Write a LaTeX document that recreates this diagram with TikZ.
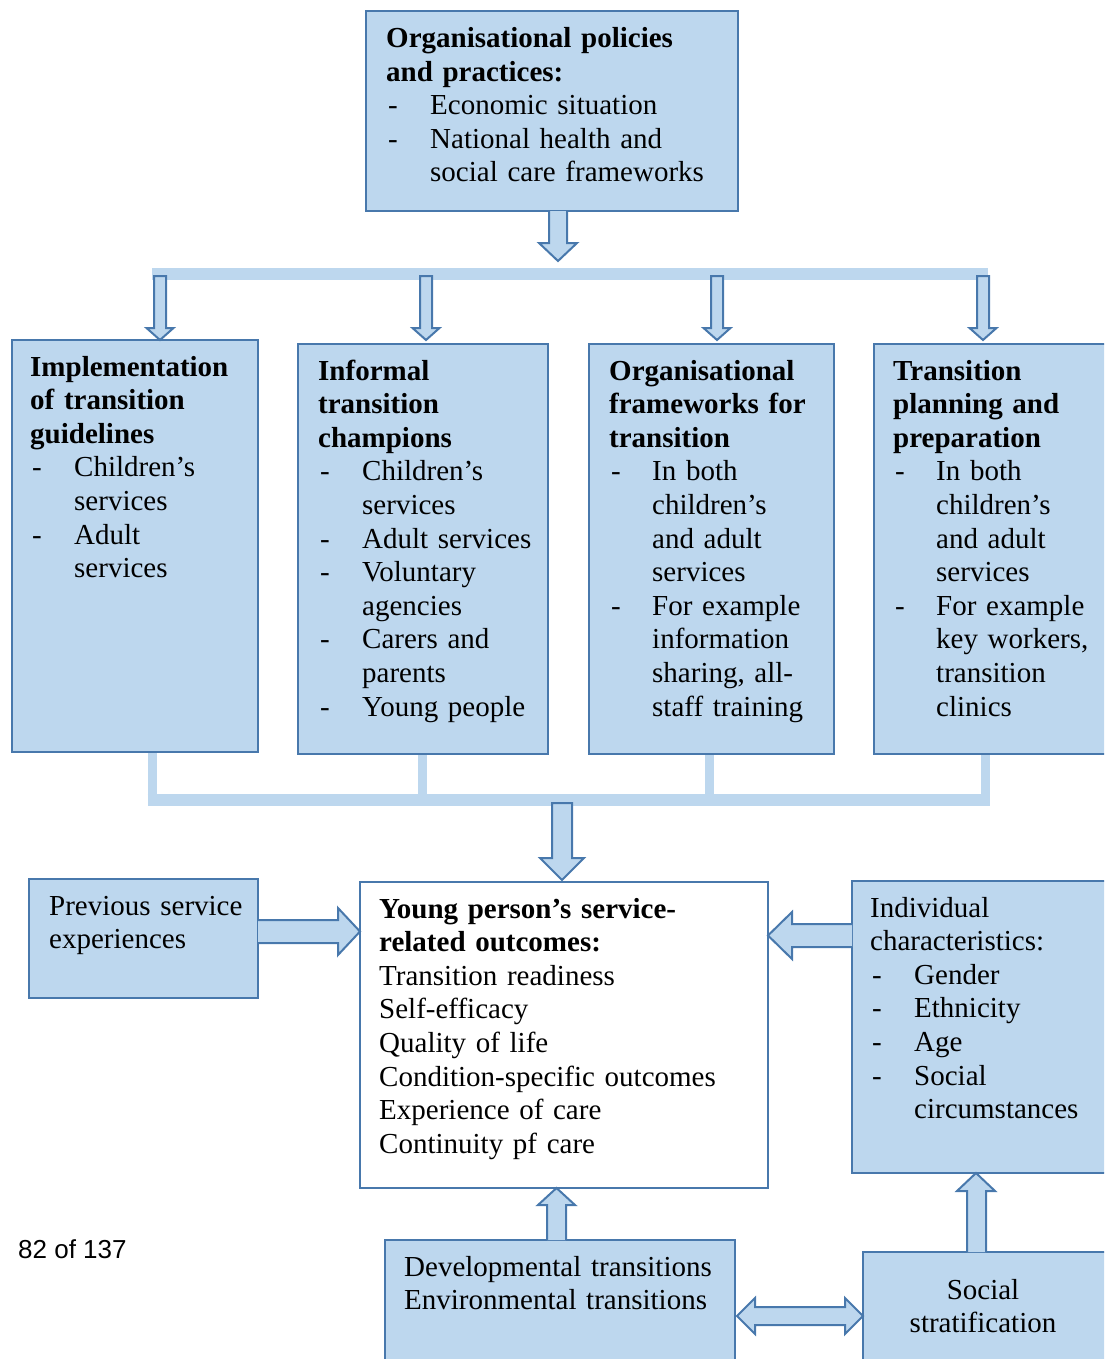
\documentclass[tikz,border=0pt]{standalone}
\usepackage{fontspec}
\setmainfont{Liberation Serif}
\setsansfont{Liberation Sans}
\definecolor{lb}{RGB}{189,215,238}
\definecolor{bdr}{RGB}{72,120,172}
\newlength\indw
\setlength\indw{44pt}
\newcommand\fsz{\fontsize{29}{33.6}\selectfont}
\newcommand\itm[1]{\par\noindent\hangindent=\indw\hangafter=1\makebox[\indw][l]{\hspace{2pt}-}#1\par}
\tikzset{
  box/.style={draw=bdr, fill=lb, line width=2.2pt, anchor=north west, inner sep=0pt, outer sep=0pt},
  wbox/.style={box, fill=white},
  arr/.style={draw=bdr, fill=lb, line width=2pt, line join=miter},
  barv/.style={draw=lb, line width=9pt},
  barh/.style={draw=lb, line width=12pt},
  txt/.style={anchor=base west, inner sep=0pt, align=left, font=\fsz, text width=#1},
  ctxt/.style={anchor=base, inner sep=0pt, align=center, font=\fsz, text width=#1},
}
\begin{document}
\begin{tikzpicture}[x=1pt,y=-1pt]
\useasboundingbox (0,0) rectangle (1104,1359);
\clip (0,0) rectangle (1104,1359);
% connector bars
\draw[barh] (152,274) -- (988,274);
\draw[barv] (152,750) -- (152,800);
\draw[barv] (422,750) -- (422,800);
\draw[barv] (709,750) -- (709,800);
\draw[barv] (985,750) -- (985,800);
\draw[barh] (147.5,800) -- (989.5,800);
% boxes
\node[box, minimum width=372pt, minimum height=200pt] (top) at (366,11) {};
\node[box, minimum width=246pt, minimum height=412pt] (b1) at (12,340) {};
\node[box, minimum width=250pt, minimum height=410pt] (b2) at (298,344) {};
\node[box, minimum width=245pt, minimum height=410pt] (b3) at (589,344) {};
\node[box, minimum width=240pt, minimum height=410pt] (b4) at (874,344) {};
\node[box, minimum width=229pt, minimum height=119pt] (prev) at (29,879) {};
\node[wbox, minimum width=408pt, minimum height=306pt] (out) at (360,882) {};
\node[box, minimum width=260pt, minimum height=292pt] (ind) at (852,881) {};
\node[box, minimum width=350pt, minimum height=130pt] (dev) at (385,1240) {};
\node[box, minimum width=250pt, minimum height=120pt] (soc) at (863,1252) {};
% texts
\node[txt=350pt] (ttop) at (386,47.5) {\textbf{Organisational policies}\\\textbf{and practices:}
\itm{Economic situation}
\itm{National health and\newline social care frameworks}};
\node[txt=230pt] (tb1) at (30,376) {\textbf{Implementation}\\\textbf{of transition}\\\textbf{guidelines}
\itm{Children’s\newline services}
\itm{Adult\newline services}};
\node[txt=230pt] (tb2) at (318,380) {\textbf{Informal}\\\textbf{transition}\\\textbf{champions}
\itm{Children’s\newline services}
\itm{Adult services}
\itm{Voluntary\newline agencies}
\itm{Carers and\newline parents}
\itm{Young people}};
\setlength\indw{43pt}
\node[txt=230pt] (tb3) at (609,380) {\textbf{Organisational}\\\textbf{frameworks for}\\\textbf{transition}
\itm{In both\newline children’s\newline and adult\newline services}
\itm{For example\newline information\newline sharing, all-\newline staff training}};
\node[txt=230pt] (tb4) at (893,380) {\textbf{Transition}\\\textbf{planning and}\\\textbf{preparation}
\itm{In both\newline children’s\newline and adult\newline services}
\itm{For example\newline key workers,\newline transition\newline clinics}};
\setlength\indw{44pt}
\node[txt=220pt] (tprev) at (49,915) {Previous service\\experiences};
\node[txt=390pt] (tout) at (379,918) {\textbf{Young person’s service-}\\\textbf{related outcomes:}\\Transition readiness\\Self-efficacy\\Quality of life\\Condition-specific outcomes\\Experience of care\\Continuity pf care};
\node[txt=240pt] (tind) at (870,917) {Individual\\characteristics:
\itm{Gender}
\itm{Ethnicity}
\itm{Age}
\itm{Social\newline circumstances}};
\node[txt=340pt] (tdev) at (404,1276) {Developmental transitions\\Environmental transitions};
\node[ctxt=240pt] (tsoc) at (983,1299) {Social\\stratification};
\node[anchor=base west, inner sep=0pt, font=\sffamily\fontsize{26}{30}\selectfont] (page) at (18,1258) {82 of 137};
% block arrows
\draw[arr] (549,211) -- (549,243) -- (539,243) -- (558,261) -- (577,243) -- (567,243) -- (567,211);
\foreach \cx in {160,426,717,983}
  \draw[arr] (\cx-6,276) -- (\cx-6,328) -- (\cx-13.5,328) -- (\cx,340) -- (\cx+13.5,328) -- (\cx+6,328) -- (\cx+6,276) -- cycle;
\draw[arr] (552,803) -- (552,858) -- (540,858) -- (562,880) -- (584,858) -- (572,858) -- (572,803) -- cycle;
\draw[arr] (258,920) -- (338,920) -- (338,908) -- (360,931.5) -- (338,955) -- (338,943) -- (258,943);
\draw[arr] (852,924) -- (792,924) -- (792,912) -- (768,935.5) -- (792,959) -- (792,947) -- (852,947);
\draw[arr] (547,1240) -- (547,1205) -- (538,1205) -- (556.5,1188) -- (575,1205) -- (566,1205) -- (566,1240);
\draw[arr] (967,1252) -- (967,1191) -- (957,1191) -- (976,1173) -- (995,1191) -- (986,1191) -- (986,1252);
\draw[arr] (737,1316) -- (755,1298) -- (755,1307) -- (845,1307) -- (845,1298) -- (863,1316) -- (845,1334) -- (845,1325) -- (755,1325) -- (755,1334) -- cycle;
\end{tikzpicture}
\end{document}
